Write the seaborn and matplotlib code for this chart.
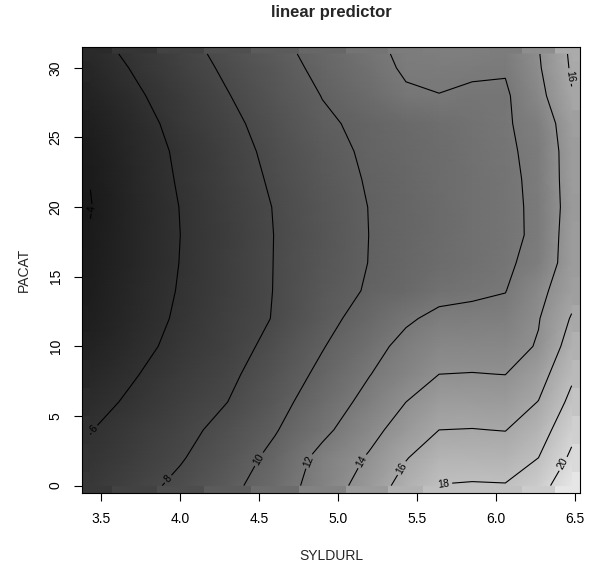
import numpy as np
import matplotlib
matplotlib.use("Agg")
import matplotlib.pyplot as plt
from matplotlib.colors import Normalize
import seaborn as sns

# grid nodes of the fitted surface (SYLDURL across, PACAT up)
syldurl = [3.43, 3.70, 4.00, 4.30, 4.60, 4.90, 5.20, 5.43, 5.64, 5.85, 6.06, 6.27, 6.48]
pacat = [0, 2, 4, 6, 8, 10, 12, 14, 16, 18, 20, 22, 24, 26, 28, 30, 31]

# linear predictor, one row per PACAT value
lp_0 = [6.60, 7.40, 8.37, 9.48, 11.00, 12.85, 14.92, 16.74, 18.05, 18.15, 18.10, 19.20, 21.40]
lp_2 = [6.25, 7.01, 7.86, 9.02, 10.48, 12.58, 14.20, 15.90, 17.10, 17.10, 17.03, 18.00, 20.35]
lp_4 = [5.95, 6.68, 7.50, 8.53, 9.87, 11.54, 13.44, 14.83, 16.00, 16.05, 15.95, 17.05, 19.46]
lp_6 = [5.48, 6.26, 7.13, 8.00, 9.40, 10.92, 12.60, 14.00, 15.04, 15.08, 14.95, 16.05, 18.50]
lp_8 = [5.09, 5.88, 6.76, 7.65, 8.90, 10.41, 11.95, 13.07, 14.00, 14.05, 13.98, 15.20, 17.65]
lp_10 = [4.68, 5.51, 6.43, 7.35, 8.45, 9.90, 11.37, 12.53, 13.24, 13.27, 13.26, 14.15, 16.90]
lp_12 = [4.41, 5.27, 6.22, 7.17, 8.09, 9.45, 10.74, 11.74, 12.44, 12.48, 12.54, 13.90, 16.15]
lp_14 = [4.24, 5.12, 6.10, 7.07, 8.05, 9.20, 10.18, 10.70, 11.40, 11.70, 11.95, 13.44, 15.30]
lp_16 = [4.13, 5.03, 6.03, 7.03, 8.04, 9.09, 10.04, 10.53, 10.94, 11.35, 11.76, 12.50, 15.10]
lp_18 = [4.07, 4.98, 6.00, 7.00, 8.03, 9.03, 10.02, 10.46, 10.87, 11.27, 11.67, 12.25, 15.10]
lp_20 = [3.95, 5.02, 6.03, 7.05, 8.07, 9.07, 10.04, 10.46, 10.87, 11.28, 11.69, 12.25, 14.90]
lp_22 = [4.03, 5.09, 6.14, 7.19, 8.24, 9.25, 10.15, 10.56, 10.95, 11.33, 11.71, 12.30, 15.00]
lp_24 = [4.18, 5.16, 6.25, 7.35, 8.42, 9.47, 10.26, 10.66, 11.03, 11.39, 11.76, 12.40, 15.00]
lp_26 = [4.37, 5.37, 6.48, 7.59, 8.68, 9.75, 10.38, 10.77, 11.12, 11.47, 11.83, 12.60, 15.30]
lp_28 = [4.70, 5.70, 6.81, 7.93, 9.00, 10.04, 11.03, 11.80, 11.97, 11.75, 11.75, 13.40, 15.90]
lp_30 = [5.10, 6.10, 7.20, 8.28, 9.33, 10.39, 11.44, 12.20, 12.30, 12.25, 12.15, 13.80, 16.20]
lp_31 = [5.36, 6.32, 7.39, 8.46, 9.51, 10.55, 11.60, 12.30, 12.50, 12.50, 12.40, 13.90, 16.30]

contour_levels = [4, 6, 8, 10, 12, 14, 16, 18, 20]
x_ticks = [3.5, 4.0, 4.5, 5.0, 5.5, 6.0, 6.5]
y_ticks = [0, 5, 10, 15, 20, 25, 30]


def build_surface():
    rows = [lp_0, lp_2, lp_4, lp_6, lp_8, lp_10, lp_12, lp_14, lp_16,
            lp_18, lp_20, lp_22, lp_24, lp_26, lp_28, lp_30, lp_31]
    return np.array(rows)


if __name__ == '__main__':
    sns.set_style("ticks")
    plt.rcParams['font.family'] = ['Liberation Sans', 'DejaVu Sans']

    z = build_surface()
    # R style gray(0.1) .. gray(0.9) ramp
    cmap = sns.blend_palette(['#1a1a1a', '#e6e6e6'], as_cmap=True)
    norm = Normalize(vmin=z.min(), vmax=z.max())

    fig = plt.figure(figsize=(5.95, 5.68), dpi=100)
    ax = fig.add_axes([0.1378, 0.1320, 0.8370, 0.7861])

    # blocky underlay fills the half cells at the border, smooth shading on top
    ax.pcolormesh(syldurl, pacat, z, shading='nearest', cmap=cmap, norm=norm)
    ax.pcolormesh(syldurl, pacat, z, shading='gouraud', cmap=cmap, norm=norm)

    cs = ax.contour(syldurl, pacat, z, levels=contour_levels, colors='black', linewidths=0.8)
    label_spots = [(3.43, 19.9), (3.47, 3.9), (3.93, 0.4), (4.53, 1.7), (4.83, 1.7),
                   (5.16, 1.7), (5.38, 1.4), (5.67, 0.25), (6.42, 1.6), (6.46, 29.4)]
    ax.clabel(cs, fmt='%d', fontsize=7.5, manual=label_spots, inline=True, inline_spacing=2)

    ax.set_xlim(3.377, 6.533)
    ax.set_ylim(-0.534, 31.534)
    ax.set_xticks(x_ticks)
    ax.set_xticklabels(['%.1f' % t for t in x_ticks])
    ax.set_yticks(y_ticks)
    ax.tick_params(direction='out', length=6, width=0.8, labelsize=10, pad=8, colors='black')
    ax.tick_params(axis='y', labelrotation=90)
    for lab in ax.get_yticklabels():
        lab.set_va('center')

    for s in ax.spines.values():
        s.set_visible(True)
        s.set_color('black')
        s.set_linewidth(0.8)

    ax.set_title('linear predictor', fontsize=12, fontweight='bold', pad=21)
    ax.set_xlabel('SYLDURL', fontsize=10, labelpad=16)
    ax.set_ylabel('PACAT', fontsize=10, labelpad=13)

    plt.savefig('out.png', dpi=100)
